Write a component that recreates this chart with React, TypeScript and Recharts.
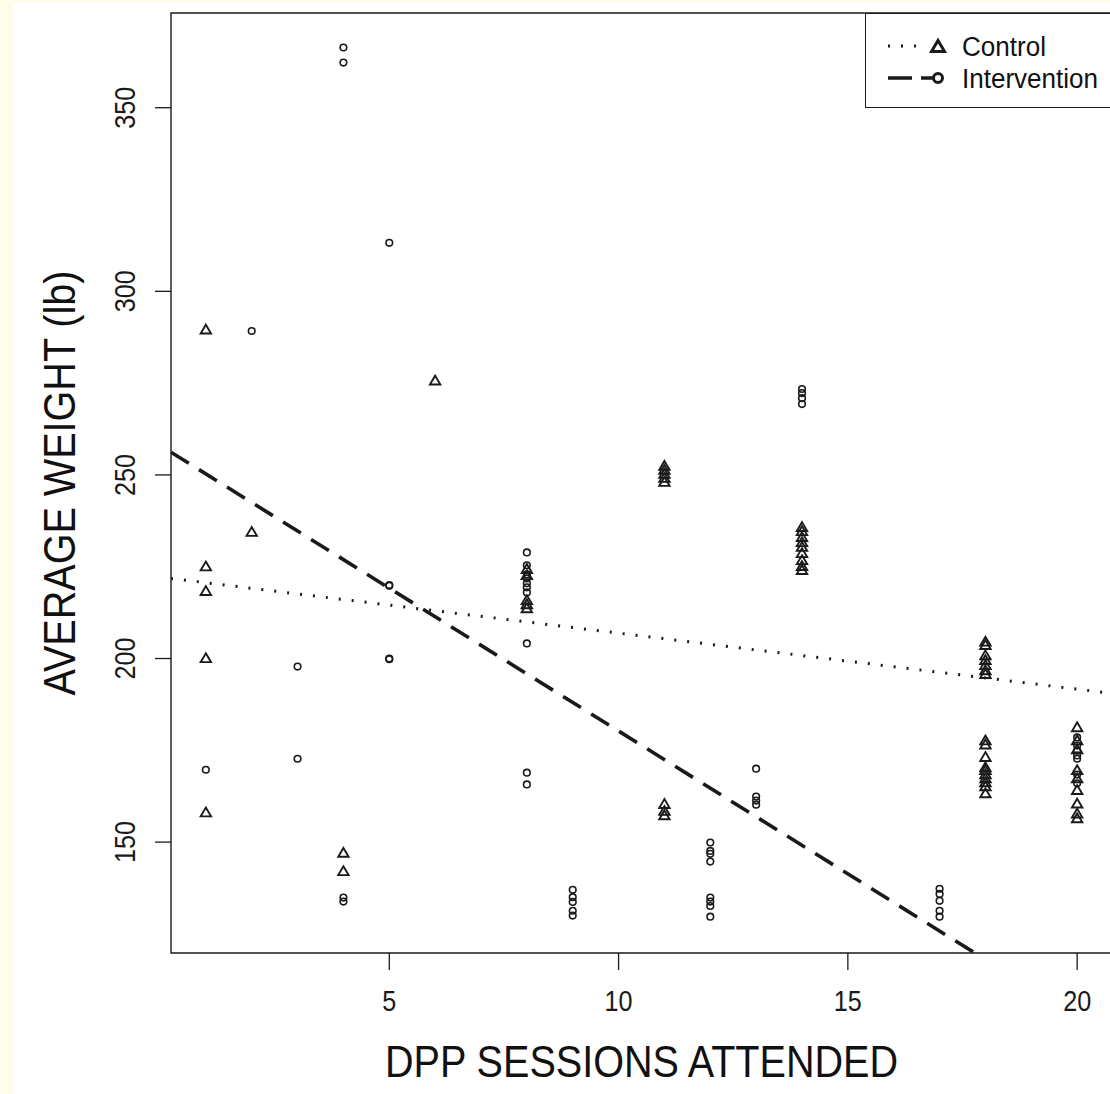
import { ReferenceArea, Scatter, ScatterChart, XAxis, YAxis } from "recharts";

// Control arm (open triangles): sessions attended vs average weight
const controlSessions = [
  1, 1, 1, 1, 1,
  2,
  4, 4,
  6,
  8, 8, 8, 8, 8,
  11, 11, 11, 11, 11, 11, 11, 11,
  14, 14, 14, 14, 14, 14, 14, 14, 14,
  18, 18, 18, 18, 18, 18, 18, 18, 18, 18, 18, 18, 18, 18, 18, 18, 18,
  20, 20, 20, 20, 20, 20, 20, 20, 20,
];
const controlWeights = [
  289.5, 225, 218.3, 200, 158,
  234.4,
  147, 142,
  275.6,
  224.3, 222.6, 215.8, 214.7, 213.6,
  252.4, 251.3, 250.2, 249.1, 248, 160.3, 158.4, 157.2,
  235.7, 234.6, 233, 231.6, 230.3, 228.6, 226.7, 225.1, 224,
  204.5, 203.6, 200.8, 199.5, 198.1, 196.7, 195.7, 177.6, 176.5, 173.1, 170.3, 169.5, 168.4, 167.3, 166.2, 165.1, 163.2,
  181.2, 177.6, 175.2, 169.5, 167.3, 164.1, 160.4, 157.7, 156.4,
];

// Intervention arm (open circles)
const interventionSessions = [
  1,
  2,
  3, 3,
  4, 4, 4, 4,
  5, 5, 5, 5, 5,
  8, 8, 8, 8, 8, 8, 8, 8, 8, 8,
  9, 9, 9, 9, 9,
  12, 12, 12, 12, 12, 12, 12, 12,
  13, 13, 13, 13,
  14, 14, 14, 14,
  17, 17, 17, 17, 17,
  20, 20, 20, 20, 20, 20, 20,
];
const interventionWeights = [
  169.7,
  289.2,
  197.8, 172.7,
  366.4, 362.3, 134.9, 133.8,
  313.2, 220, 219.8, 200, 199.8,
  228.9, 225.4, 222.9, 221.8, 220.5, 219.4, 218, 204.1, 168.9, 165.7,
  137, 135, 133.7, 131.3, 130,
  149.9, 147.6, 146.8, 144.7, 134.9, 133.8, 132.6, 129.7,
  170, 162.4, 161.3, 160.2,
  273.4, 272.3, 270.9, 269.3,
  137.3, 135.9, 134, 131.3, 129.7,
  178.5, 176.3, 174.9, 173.6, 172.7, 168.4, 166,
];

// fitted regression lines, endpoints at the plot edges
const controlFitX = [0.24, 20.76];
const controlFitY = [221.8, 190.5];
const interventionFitX = [0.24, 17.77];
const interventionFitY = [256.2, 119.8];

const xTicks = [5, 10, 15, 20];
const yTicks = [150, 200, 250, 300, 350];
const X_DOMAIN: [number, number] = [0.24, 20.76];
const Y_DOMAIN: [number, number] = [119.8, 375.8];

const pts = (xs: number[], ys: number[]) => xs.map((x, i) => ({ x, y: ys[i] }));
const controlData = pts(controlSessions, controlWeights);
const interventionData = pts(interventionSessions, interventionWeights);
const controlFit = pts(controlFitX, controlFitY);
const interventionFit = pts(interventionFitX, interventionFitY);

const INK = "#1a1a1a";
const FONT = "'Liberation Sans', Arial, sans-serif";

const Triangle = ({ cx, cy, s = 5.2, w = 1.9 }: any) => (
  <path
    d={`M${cx},${cy - s} L${cx + s},${cy + s * 0.7} L${cx - s},${cy + s * 0.7} Z`}
    fill="none"
    stroke={INK}
    strokeWidth={w}
    strokeLinejoin="miter"
  />
);
const Ring = ({ cx, cy, r = 3.3, w = 1.6 }: any) => (
  <circle cx={cx} cy={cy} r={r} fill="none" stroke={INK} strokeWidth={w} />
);
const NoDot = () => <g />;

const XTick = ({ x, y, payload }: any) => (
  <text x={x} y={y + 39} textAnchor="middle" fontSize={29} fill={INK} fontFamily={FONT}
    textLength={String(payload.value).length * 14} lengthAdjust="spacingAndGlyphs">
    {payload.value}
  </text>
);
const YTick = ({ x, y, payload }: any) => (
  <text x={x - 18} y={y} textAnchor="middle" fontSize={29} fill={INK} fontFamily={FONT}
    transform={`rotate(-90, ${x - 18}, ${y})`}
    textLength={42} lengthAdjust="spacingAndGlyphs">
    {payload.value}
  </text>
);

export default function App() {
  return (
    <div style={{ position: "absolute", left: 0, top: 0, width: 1110, height: 1094, overflow: "hidden", background: "#FFFDE9" }}>
      <div style={{ position: "absolute", left: 13, top: 3, right: 0, bottom: 0, background: "#fff" }} />
      <div style={{ position: "absolute", left: 0, top: 0 }}>
        <ScatterChart width={1125} height={1094} margin={{ top: 13, right: 13, bottom: 0, left: 0 }}>
          <XAxis
            type="number"
            dataKey="x"
            domain={X_DOMAIN}
            ticks={xTicks}
            allowDataOverflow
            height={141}
            axisLine={false}
            tickSize={17}
            tickLine={{ stroke: INK, strokeWidth: 1.3 }}
            tick={<XTick />}
            label={{
              content: ({ viewBox }: any) => (
                <text x={viewBox.x + viewBox.width / 2} y={viewBox.y + 124} textAnchor="middle"
                  fontSize={44} fill="#111" fontFamily={FONT} textLength={513} lengthAdjust="spacingAndGlyphs">
                  DPP SESSIONS ATTENDED
                </text>
              ),
            }}
          />
          <YAxis
            type="number"
            dataKey="y"
            domain={Y_DOMAIN}
            ticks={yTicks}
            allowDataOverflow
            width={171}
            axisLine={false}
            tickSize={16}
            tickLine={{ stroke: INK, strokeWidth: 1.3 }}
            tick={<YTick />}
            label={{
              content: ({ viewBox }: any) => {
                const cy = viewBox.y + viewBox.height / 2;
                return (
                  <text x={75} y={cy} textAnchor="middle" fontSize={44} fill="#111" fontFamily={FONT}
                    transform={`rotate(-90, 75, ${cy})`} textLength={425} lengthAdjust="spacingAndGlyphs">
                    AVERAGE WEIGHT (lb)
                  </text>
                );
              },
            }}
          />
          <ReferenceArea x1={X_DOMAIN[0]} x2={X_DOMAIN[1]} y1={Y_DOMAIN[0]} y2={Y_DOMAIN[1]}
            fill="none" fillOpacity={0} stroke={INK} strokeWidth={1.4} ifOverflow="visible" />
          <Scatter data={controlData} shape={<Triangle />} isAnimationActive={false} />
          <Scatter data={interventionData} shape={<Ring />} isAnimationActive={false} />
          <Scatter data={controlFit} shape={<NoDot />} isAnimationActive={false}
            line={{ stroke: INK, strokeWidth: 3, strokeDasharray: "2 11" }} />
          <Scatter data={interventionFit} shape={<NoDot />} isAnimationActive={false}
            line={{ stroke: INK, strokeWidth: 3.6, strokeDasharray: "21 12" }} />
        </ScatterChart>
      </div>
      <div style={{ position: "absolute", left: 865, top: 13, width: 260, height: 95, background: "#fff", border: `1.4px solid ${INK}`, boxSizing: "border-box" }}>
        <svg width={260} height={95}>
          <line x1={22} y1={32} x2={55} y2={32} stroke={INK} strokeWidth={3} strokeDasharray="2 11" />
          <Triangle cx={72} cy={33} s={6.5} w={3} />
          <text x={96} y={42} fontSize={27} fill="#111" fontFamily={FONT} textLength={84} lengthAdjust="spacingAndGlyphs">Control</text>
          <line x1={22} y1={64} x2={68} y2={64} stroke={INK} strokeWidth={3.6} strokeDasharray="24 9" />
          <Ring cx={72} cy={64} r={4.5} w={3} />
          <text x={96} y={74} fontSize={27} fill="#111" fontFamily={FONT} textLength={136} lengthAdjust="spacingAndGlyphs">Intervention</text>
        </svg>
      </div>
    </div>
  );
}
